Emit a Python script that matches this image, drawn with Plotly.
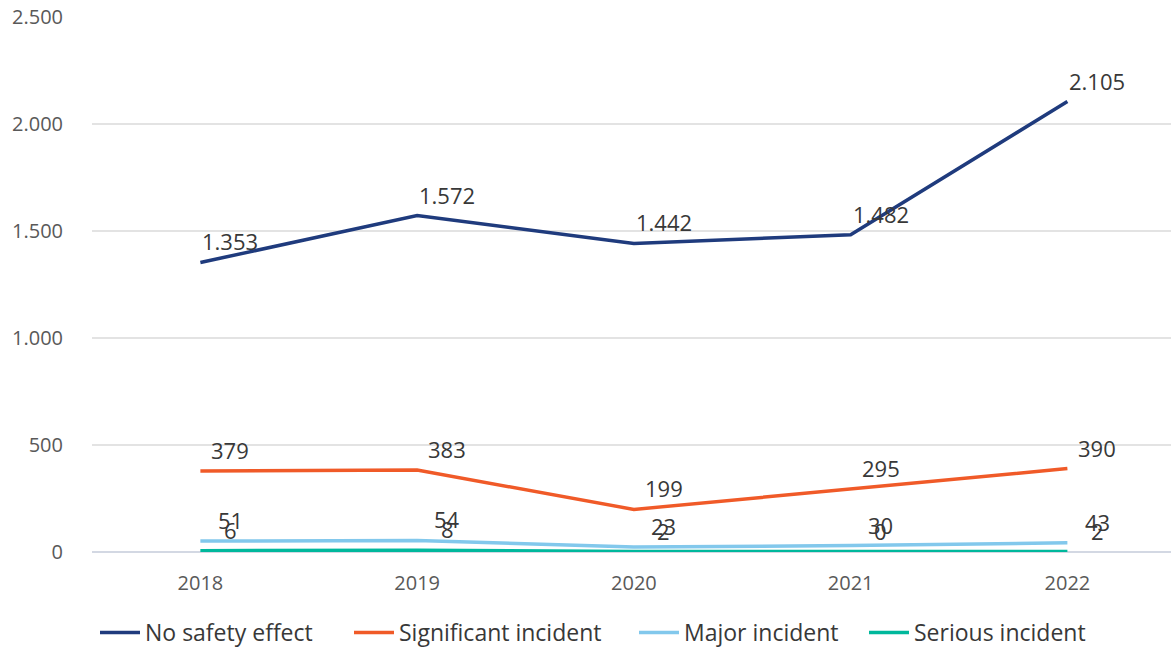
import plotly.graph_objects as go

years = ["2018", "2019", "2020", "2021", "2022"]
no_safety = [1353, 1572, 1442, 1482, 2105]
significant = [379, 383, 199, 295, 390]
major = [51, 54, 23, 30, 43]
serious = [6, 8, 2, 0, 2]

series = [
    ("No safety effect", no_safety, "#1f3b7d"),
    ("Significant incident", significant, "#f05a28"),
    ("Major incident", major, "#82c8ec"),
    ("Serious incident", serious, "#00b89c"),
]
legend_starts = [103, 357, 642, 872]  # pixel start of each legend entry
legend_ids = ["legend", "legend2", "legend3", "legend4"]

def fmt(v):
    return f"{v:,}".replace(",", ".")

fig = go.Figure()
annotations = []
for k, (name, vals, col) in enumerate(series):
    fig.add_trace(go.Scatter(x=years, y=vals, name=name, mode="lines",
                             legend=legend_ids[k], showlegend=True,
                             line=dict(color=col, width=3.5)))
    for i, v in enumerate(vals):
        annotations.append(dict(x=i, y=v, text=fmt(v), showarrow=False,
                                xanchor="center", yanchor="middle",
                                xshift=30, yshift=21,
                                font=dict(size=22, color="#383838", family="Open Sans")))

legend_layout = {}
for k, lid in enumerate(legend_ids):
    legend_layout[lid] = dict(orientation="h", xref="container", yref="container",
                              x=(legend_starts[k] - 8) / 1171, xanchor="left",
                              y=0.024, yanchor="middle",
                              font=dict(size=23, color="#383838"), itemwidth=40,
                              bgcolor="rgba(0,0,0,0)")

fig.update_layout(
    width=1171, height=648,
    showlegend=True,
    margin=dict(l=92, r=0, t=17, b=96),
    paper_bgcolor="white", plot_bgcolor="white",
    separators=",.",
    annotations=annotations,
    font=dict(family="Open Sans", color="#595959"),
    xaxis=dict(type="category", range=[-0.5, 4.478], showgrid=False,
               tickfont=dict(size=20, color="#595959"), ticks="",
               ticklabelstandoff=17, showline=False, zeroline=False),
    yaxis=dict(range=[0, 2500], dtick=500, tickformat=",d",
               gridcolor="#e3e3e3", gridwidth=1.5,
               zeroline=True, zerolinecolor="#d3d8e3", zerolinewidth=2,
               tickfont=dict(size=20, color="#595959"),
               ticklabelstandoff=28),
    **legend_layout,
)

fig.write_html("out.html", config={"displayModeBar": False},
               post_script="document.body.style.margin='0';document.body.style.overflow='hidden';")
